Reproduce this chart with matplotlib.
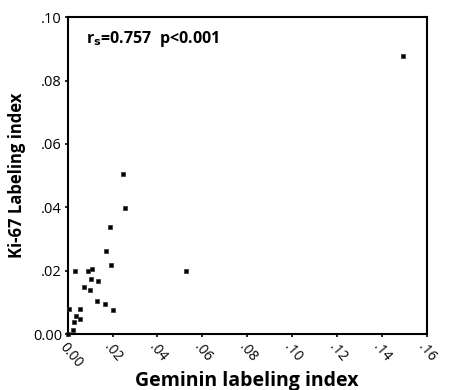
import numpy as np
import matplotlib
matplotlib.use("Agg")
from matplotlib import pyplot as plt

# Geminin vs Ki-67 labeling index
geminin = [0.1496, 0.0248, 0.0257, 0.0187, 0.0169, 0.0193, 0.0526, 0.0031,
           0.0089, 0.0107, 0.0103, 0.0135, 0.0074, 0.0100, 0.0129, 0.0166,
           0.0204, 0.0007, 0.0053, 0.0037, 0.0055, 0.0030, 0.0022, 0.0003]
ki67 = [0.0879, 0.0506, 0.0399, 0.0339, 0.0262, 0.0219, 0.0199, 0.0198,
        0.0198, 0.0207, 0.0174, 0.0168, 0.0148, 0.0138, 0.0104, 0.0096,
        0.0076, 0.0081, 0.0078, 0.0056, 0.0048, 0.0040, 0.0014, 0.0001]

xticks = [0.0, 0.02, 0.04, 0.06, 0.08, 0.10, 0.12, 0.14, 0.16]
xlabels = ['0.00', '.02', '.04', '.06', '.08', '.10', '.12', '.14', '.16']
yticks = [0.0, 0.02, 0.04, 0.06, 0.08, 0.10]
ylabels = ['0.00', '.02', '.04', '.06', '.08', '.10']

plt.rcParams['font.family'] = ['Open Sans', 'DejaVu Sans']

fig = plt.figure(figsize=(4.54, 3.9), dpi=100)
ax = fig.add_axes([0.149, 0.143, 0.791, 0.813])

ax.scatter(geminin, ki67, marker='s', s=10, color='black', edgecolors='#333333',
           linewidths=0.5, zorder=3, clip_on=False)

ax.set_xlim(0, 0.16)
ax.set_ylim(0, 0.10)
ax.set_xticks(xticks)
ax.set_xticklabels(xlabels, rotation=-50, ha='left', va='top',
                   rotation_mode='anchor', fontsize=10)
ax.set_yticks(yticks)
ax.set_yticklabels(ylabels, fontsize=10.5)
ax.tick_params(direction='out', length=2, width=1.2, pad=2)

for s in ax.spines.values():
    s.set_linewidth(1.5)

ax.set_xlabel('Geminin labeling index', fontsize=14, fontweight='bold', labelpad=0)
ax.set_ylabel('Ki-67 Labeling index', fontsize=12, fontweight='bold', labelpad=5)

ax.text(0.05, 0.93, r'r$_{\mathbf{s}}$=0.757  p<0.001', transform=ax.transAxes,
        fontsize=11.5, fontweight='bold', va='center', ha='left')

fig.savefig('out.png', dpi=100)
